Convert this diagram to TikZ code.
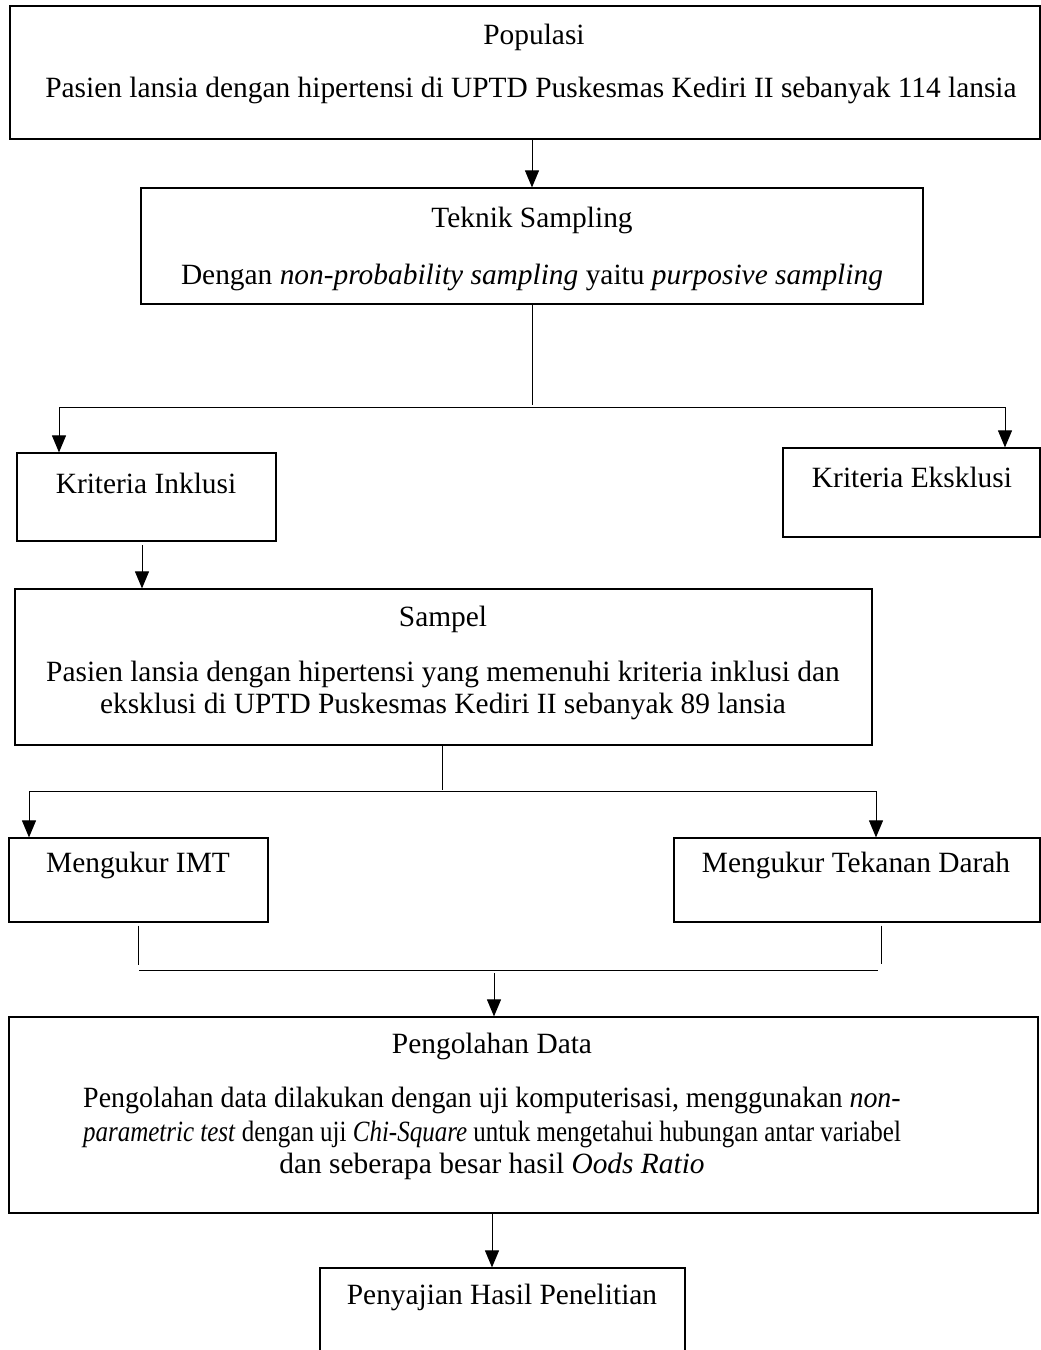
\documentclass[tikz,border=0pt]{standalone}
\usepackage{fontspec}
\setmainfont{Liberation Serif}
\usetikzlibrary{arrows.meta}
\begin{document}
\begin{tikzpicture}[x=1pt,y=-1pt,
  box/.style={draw, line width=1.2pt, inner sep=0pt},
  lbl/.style={anchor=base, inner sep=0pt, font=\fontsize{29.4}{33}\selectfont},
  conn/.style={line width=1pt},
  arr/.style={line width=1pt, -{Triangle[width=14pt,length=17pt]}}]
\useasboundingbox (0,0) rectangle (1041,1350);
% boxes
\node[box, minimum width=1030pt, minimum height=133pt] (pop) at (525,72.5) {};
\node[box, minimum width=782pt, minimum height=116pt] (tek) at (532,246) {};
\node[box, minimum width=259pt, minimum height=88pt] (inc) at (146.5,497) {};
\node[box, minimum width=257pt, minimum height=89pt] (eks) at (911.5,492.5) {};
\node[box, minimum width=857pt, minimum height=156pt] (sam) at (443.5,667) {};
\node[box, minimum width=259pt, minimum height=84pt] (imt) at (138.5,880) {};
\node[box, minimum width=366pt, minimum height=84pt] (tkd) at (857,880) {};
\node[box, minimum width=1029pt, minimum height=196pt] (olah) at (523.5,1115) {};
\node[box, minimum width=365pt, minimum height=132pt] (saj) at (502.5,1334) {};
% texts
\node[lbl] (t1) at (534,44) {Populasi};
\node[lbl] (t2) at (531,97) {Pasien lansia dengan hipertensi di UPTD Puskesmas Kediri II sebanyak 114 lansia};
\node[lbl] (t3) at (532,227) {Teknik Sampling};
\node[lbl] (t4) at (532,284) {Dengan \textit{non-probability sampling} yaitu \textit{purposive sampling}};
\node[lbl] (t5) at (146,493) {Kriteria Inklusi};
\node[lbl] (t6) at (912,487) {Kriteria Eksklusi};
\node[lbl] (t7) at (443,626) {Sampel};
\node[lbl] (t8) at (443,681) {Pasien lansia dengan hipertensi yang memenuhi kriteria inklusi dan};
\node[lbl] (t9) at (443,713) {eksklusi di UPTD Puskesmas Kediri II sebanyak 89 lansia};
\node[lbl] (t10) at (138,872) {Mengukur IMT};
\node[lbl] (t11) at (856,872) {Mengukur Tekanan Darah};
\node[lbl] (t12) at (492,1053) {Pengolahan Data};
\node[lbl] (t13) at (492,1107) {\scalebox{0.95}[1]{Pengolahan data dilakukan dengan uji komputerisasi, menggunakan \textit{non-}}};
\node[lbl] (t14) at (492,1141) {\scalebox{0.85}[1]{\textit{parametric test} dengan uji \textit{Chi-Square} untuk mengetahui hubungan antar variabel}};
\node[lbl] (t15) at (492,1173) {dan seberapa besar hasil \textit{Oods Ratio}};
\node[lbl] (t16) at (502,1304) {Penyajian Hasil Penelitian};
% junction coordinates
\coordinate (j1) at (532,405);
\coordinate (jl) at (59,407);
\coordinate (jr) at (1005,407);
\coordinate (j2) at (442,790);
\coordinate (kl) at (29,791);
\coordinate (kr) at (876,791);
\coordinate (m1) at (138,965);
\coordinate (m2) at (881,964);
\coordinate (h1) at (139,970);
\coordinate (h2) at (878,970);
\coordinate (h3) at (494,973);
\coordinate (c4) at (142,545);
\coordinate (c5) at (492,1240);
% connectors
\draw[arr] (pop.south -| tek.north) -- (tek.north);
\draw[conn] (tek.south) -- (j1);
\draw[conn] (jl) -- (jr);
\draw[arr] (jl) -- (jl |- inc.north);
\draw[arr] (jr) -- (jr |- eks.north);
\draw[arr] (c4) -- (c4 |- sam.north);
\draw[conn] (sam.south -| j2) -- (j2);
\draw[conn] (kl) -- (kr);
\draw[arr] (kl) -- (kl |- imt.north);
\draw[arr] (kr) -- (kr |- tkd.north);
\draw[conn] ([yshift=-3pt]imt.south -| m1) -- (m1);
\draw[conn] ([yshift=-3pt]tkd.south -| m2) -- (m2);
\draw[conn] (h1) -- (h2);
\draw[arr] (h3) -- (h3 |- olah.north);
\draw[arr] (c5 |- olah.south) -- (c5 |- saj.north);
\end{tikzpicture}
\end{document}
